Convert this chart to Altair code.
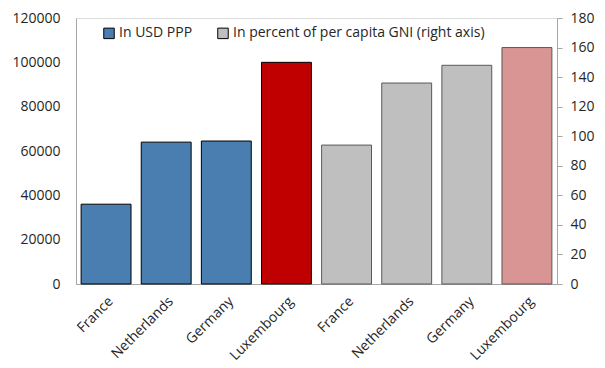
import altair as alt
import pandas as pd

countries = ["France", "Netherlands", "Germany", "Luxembourg"]
usd_ppp = [36000, 64000, 64500, 100000]
pct_gni = [94, 136, 148, 160]
series_names = ["In USD PPP", "In percent of per capita GNI (right axis)"]

left = pd.DataFrame({
    "key": [c + "|1" for c in countries],
    "country": countries,
    "value": usd_ppp,
    "series": series_names[0],
})
right = pd.DataFrame({
    "key": [c + "|2" for c in countries],
    "country": countries,
    "value": pct_gni,
    "series": series_names[1],
})
order = list(left["key"]) + list(right["key"])

font = "Open Sans"
txt = "#262626"
axis_gray = "#A6A6A6"

x_enc = alt.X(
    "key:N",
    scale=alt.Scale(domain=order, paddingInner=0.17, paddingOuter=0.085),
    axis=alt.Axis(
        title=None,
        labelExpr="split(datum.label, '|')[0]",
        labelAngle=-45,
        labelFontSize=14,
        labelFont=font,
        labelColor=txt,
        ticks=False,
        domainColor=axis_gray,
        labelPadding=10,
    ),
)

color_scale = alt.Scale(domain=series_names, range=["#4A7EB0", "#BFBFBF"])
legend = alt.Legend(
    title=None,
    orient="none",
    legendX=26,
    legendY=8,
    direction="horizontal",
    symbolType="square",
    symbolSize=110,
    symbolStrokeColor="#000000",
    symbolStrokeWidth=1,
    labelFontSize=14,
    labelFont=font,
    labelColor=txt,
    labelLimit=500,
    columnPadding=22,
    labelOffset=3,
)

left_bars = alt.Chart(left).mark_bar(stroke="#000000", strokeWidth=1).encode(
    x=x_enc,
    y=alt.Y(
        "value:Q",
        scale=alt.Scale(domain=[0, 120000]),
        axis=alt.Axis(
            title=None, values=list(range(0, 120001, 20000)), format="d",
            grid=False, orient="left", labelFontSize=14, labelFont=font,
            labelColor=txt, domainColor=axis_gray, ticks=False,
            labelPadding=16,
        ),
    ),
    color=alt.condition(
        alt.datum.country == "Luxembourg",
        alt.value("#C00000"),
        alt.Color("series:N", scale=color_scale, legend=legend),
    ),
)

right_bars = alt.Chart(right).mark_bar(stroke="#595959", strokeWidth=1).encode(
    x=x_enc,
    y=alt.Y(
        "value:Q",
        scale=alt.Scale(domain=[0, 180]),
        axis=alt.Axis(
            title=None, values=list(range(0, 181, 20)), format="d",
            grid=False, orient="right", labelFontSize=14, labelFont=font,
            labelColor=txt, domainColor=axis_gray, tickColor=axis_gray,
            tickSize=5, labelPadding=8,
        ),
    ),
    color=alt.condition(
        alt.datum.country == "Luxembourg",
        alt.value("#D99594"),
        alt.Color("series:N", scale=color_scale, legend=legend),
    ),
)

chart = (
    alt.layer(left_bars, right_bars)
    .resolve_scale(y="independent")
    .properties(
        width=481,
        height=266,
        padding={"left": 3, "top": 3, "right": 0, "bottom": 0},
    )
    .configure_view(stroke=axis_gray, strokeWidth=1)
    .configure(background="white")
)

chart.save("out.html", embed_options={"renderer": "svg", "actions": False})
